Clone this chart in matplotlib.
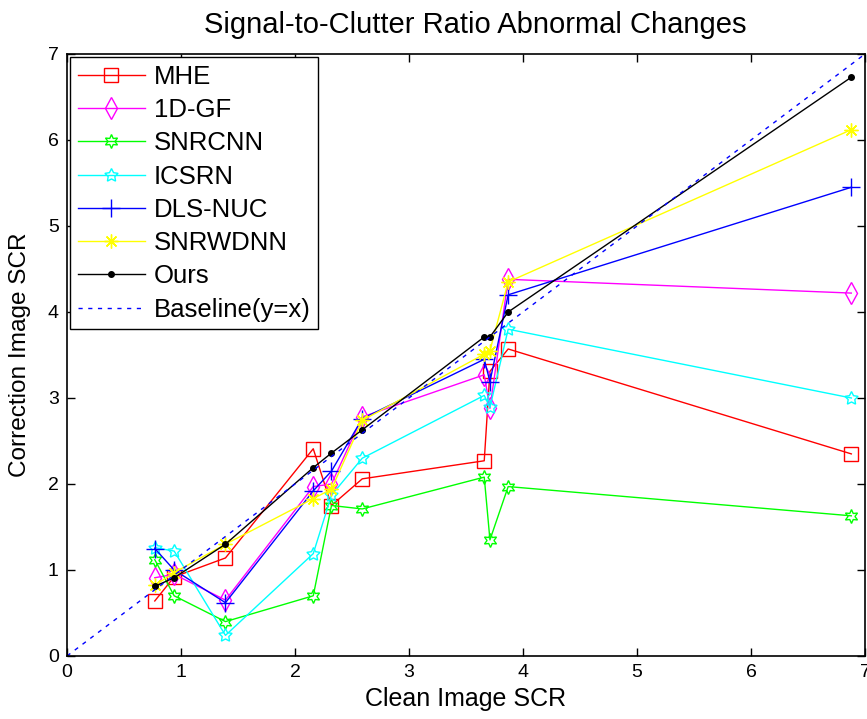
import matplotlib
matplotlib.use("Agg")
import matplotlib.pyplot as plt

plt.rcParams['font.family'] = ['Liberation Sans', 'DejaVu Sans']

clean_scr = [0.77, 0.94, 1.39, 2.16, 2.32, 2.59, 3.66, 3.71, 3.87, 6.88]

mhe     = [0.64, 0.92, 1.14, 2.41, 1.75, 2.06, 2.27, 3.31, 3.57, 2.35]
gf1d    = [0.91, 0.95, 0.65, 1.97, 2.00, 2.78, 3.27, 2.88, 4.38, 4.22]
snrcnn  = [1.12, 0.70, 0.40, 0.70, 1.75, 1.71, 2.08, 1.35, 1.97, 1.63]
icsrn   = [1.26, 1.22, 0.24, 1.19, 1.87, 2.30, 3.03, 2.89, 3.80, 3.00]
dlsnuc  = [1.25, 1.00, 0.62, 1.92, 2.15, 2.76, 3.45, 3.19, 4.20, 5.45]
snrwdnn = [0.82, 0.97, 1.30, 1.83, 1.94, 2.74, 3.51, 3.55, 4.35, 6.12]
ours    = [0.81, 0.91, 1.30, 2.19, 2.36, 2.63, 3.71, 3.71, 4.00, 6.73]

series = [
    ("MHE", mhe, 'red', 's', 10),
    ("1D-GF", gf1d, 'magenta', 'd', 11),
    ("SNRCNN", snrcnn, 'lime', (6, 1, 0), 10),
    ("ICSRN", icsrn, 'cyan', (5, 1, 0), 10),
    ("DLS-NUC", dlsnuc, 'blue', '+', 13),
    ("SNRWDNN", snrwdnn, 'yellow', (8, 2, 0), 10),
    ("Ours", ours, 'black', '.', 8),
]

fig = plt.figure(figsize=(8.67, 7.19), dpi=100)
ax = fig.add_axes([67/867, 1-656/719, (865-67)/867, (656-54)/719])

for name, vals, col, mk, ms in series:
    filled = mk in ('.',)
    ax.plot(clean_scr, vals, color=col, marker=mk, markersize=ms, lw=1.0,
            markerfacecolor=col if filled else 'none', markeredgecolor=col,
            markeredgewidth=1.0, label=name)

ax.plot([0, 7], [0, 7], color='blue', lw=1.0, linestyle=(0, (3, 4)), label='Baseline(y=x)')

ax.set_xlim(0, 7)
ax.set_ylim(0, 7)
ax.set_xticks(range(8))
ax.set_yticks(range(8))
ax.tick_params(direction='in', top=True, right=True, length=6, width=1.0,
               labelsize=14, pad=6)
for s in ax.spines.values():
    s.set_linewidth(1.2)

ttl = ax.set_title("Signal-to-Clutter Ratio Abnormal Changes", fontsize=21, pad=15)
ttl.set_x(0.512)
ax.set_xlabel("Clean Image SCR", fontsize=18, labelpad=4)
ax.set_ylabel("Correction Image SCR", fontsize=17.6, labelpad=12)

leg = ax.legend(loc='upper left', fontsize=18.5, frameon=True, fancybox=False,
                edgecolor='black', framealpha=1, handlelength=2.6,
                handletextpad=0.35, labelspacing=0.36, borderpad=0.3,
                borderaxespad=0.12)
leg.get_frame().set_linewidth(1.0)

fig.savefig("out.png", dpi=100)
